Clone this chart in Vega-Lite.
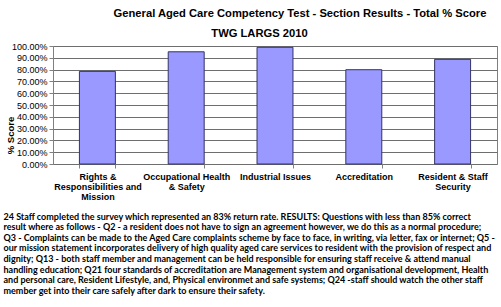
{
  "$schema": "https://vega.github.io/schema/vega-lite/v6.json",
  "width": 444,
  "height": 118,
  "autosize": {"type": "none"},
  "padding": {"left": 53, "top": 46, "right": 4, "bottom": 143},
  "background": "white",
  "config": {
    "font": "Liberation Sans",
    "view": {"stroke": "#808080", "strokeWidth": 1}
  },
  "title": {
    "text": "General Aged Care Competency Test - Section Results - Total % Score",
    "anchor": "middle",
    "frame": "group",
    "dx": 25,
    "offset": 8,
    "fontSize": 11.2,
    "fontWeight": "bold",
    "font": "Liberation Sans",
    "color": "#000000"
  },
  "data": {
    "values": [
      {"section": "Rights & Responsibilities and Mission", "score": 0.785},
      {"section": "Occupational Health & Safety", "score": 0.951},
      {"section": "Industrial Issues", "score": 0.989},
      {"section": "Accreditation", "score": 0.799},
      {"section": "Resident & Staff Security", "score": 0.887}
    ]
  },
  "encoding": {
    "y": {
      "field": "score",
      "type": "quantitative",
      "scale": {"domain": [0, 1], "nice": false},
      "axis": {
        "format": ".2%",
        "values": [0, 0.1, 0.2, 0.3, 0.4, 0.5, 0.6, 0.7, 0.8, 0.9, 1],
        "tickCount": 20,
        "labelOverlap": false,
        "labelFlush": false,
        "grid": true,
        "gridColor": "#6e6e6e",
        "gridWidth": 1,
        "domain": true,
        "domainColor": "#808080",
        "tickColor": "#808080",
        "tickSize": 4,
        "labelFont": "Liberation Sans",
        "labelFontSize": 9,
        "labelColor": "#000000",
        "labelPadding": 2,
        "title": "% Score",
        "titleFont": "Liberation Sans",
        "titleFontSize": 9.5,
        "titleFontWeight": "bold",
        "titleColor": "#000000",
        "titleAngle": -90,
        "titleAlign": "center",
        "titleBaseline": "middle",
        "titleX": -43,
        "titleY": 89
      }
    }
  },
  "layer": [
    {
      "mark": {"type": "bar", "color": "#9999FF", "stroke": "#333366", "strokeWidth": 1},
      "encoding": {
        "x": {
          "field": "section",
          "type": "nominal",
          "sort": null,
          "scale": {"paddingInner": 0.595, "paddingOuter": 0.2975},
          "axis": {
            "orient": "bottom",
            "domain": false,
            "tickBand": "extent",
            "tickSize": 4,
            "tickColor": "#808080",
            "labelAngle": 0,
            "labelFont": "Liberation Sans",
            "labelFontSize": 9,
            "labelFontWeight": "bold",
            "labelColor": "#000000",
            "labelBaseline": "top",
            "labelPadding": 4,
            "labelLineHeight": 10,
            "labelLimit": 200,
            "labelExpr": "datum.label == 'Rights & Responsibilities and Mission' ? ['Rights &', 'Responsibilities  and', 'Mission'] : datum.label == 'Occupational Health & Safety' ? ['Occupational Health', '& Safety'] : datum.label == 'Resident & Staff Security' ? ['Resident & Staff', 'Security'] : datum.label",
            "title": [
              "24 Staff completed the survey  which represented an 83% return rate. RESULTS: Questions with less than 85% correct",
              "result where as follows - Q2 - a resident does not have to sign an agreement however, we do this as a normal procedure;",
              "Q3 - Complaints can be made to the Aged Care complaints scheme by face to face, in writing, via letter, fax or internet; Q5 -",
              "our mission statement  incorporates delivery of high quality aged care services to resident with the provision of respect and",
              "dignity; Q13 - both staff member and management can be held responsible for ensuring staff receive & attend manual",
              "handling education; Q21 four standards of accreditation are Management system and organisational development, Health",
              "and personal care, Resident Lifestyle, and, Physical environmet and safe systems; Q24 -staff should watch the other staff",
              "member get into their care safely after dark to ensure their safety."
            ],
            "titleFont": "Lato",
            "titleFontSize": 9,
            "titleFontWeight": "bold",
            "titleColor": "#000000",
            "titleAnchor": "start",
            "titleAlign": "left",
            "titleBaseline": "top",
            "titleLineHeight": 10.6,
            "titleX": -50,
            "titleY": 48
          }
        }
      }
    },
    {
      "mark": {"type": "bar", "opacity": 0},
      "encoding": {
        "x": {
          "field": "section",
          "type": "nominal",
          "sort": null,
          "axis": {
            "orient": "top",
            "domain": false,
            "ticks": false,
            "labels": false,
            "grid": false,
            "title": "TWG LARGS 2010",
            "titleFont": "Liberation Sans",
            "titleFontSize": 11.2,
            "titleFontWeight": "bold",
            "titleColor": "#000000",
            "titleAnchor": "start",
            "titleAlign": "center",
            "titleBaseline": "middle",
            "titleX": 206,
            "titleY": -13
          }
        }
      }
    }
  ],
  "resolve": {"axis": {"x": "independent"}}
}
